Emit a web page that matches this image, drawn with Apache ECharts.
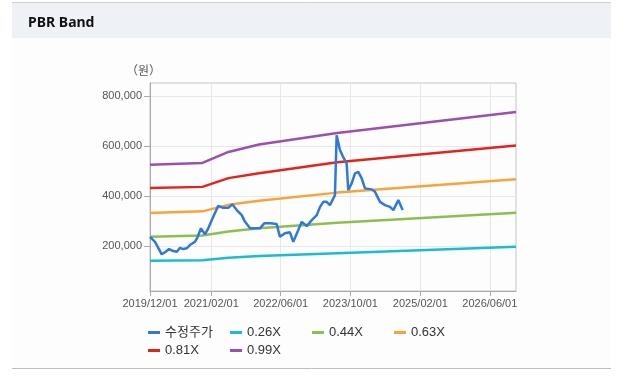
<!DOCTYPE html>
<html>
<head>
<meta charset="utf-8">
<script src="https://cdn.jsdelivr.net/npm/echarts@6/dist/echarts.min.js"></script>
<style>
html,body{margin:0;padding:0;background:#ffffff;}
#chart{width:621px;height:385px;}
</style>
</head>
<body>
<div id="chart"></div>
<script>
// ---- data ----
const priceDates = ['2019-12-01','2020-01-05','2020-02-21','2020-03-15','2020-04-12','2020-05-12','2020-06-05','2020-06-28','2020-07-21','2020-08-13','2020-09-05','2020-10-10','2020-10-29','2020-11-21','2020-12-19','2021-01-11','2021-02-15','2021-03-22','2021-04-26','2021-05-31','2021-06-28','2021-07-29','2021-09-02','2021-09-25','2021-10-30','2021-12-04','2022-01-07','2022-02-06','2022-03-18','2022-05-04','2022-05-27','2022-07-01','2022-08-05','2022-08-28','2022-10-02','2022-10-26','2022-11-30','2023-01-04','2023-02-08','2023-03-03','2023-03-26','2023-04-18','2023-05-11','2023-06-04','2023-06-15','2023-06-27','2023-07-20','2023-08-12','2023-09-05','2023-09-16','2023-10-10','2023-11-02','2023-11-25','2023-12-19','2024-01-11','2024-02-27','2024-03-21','2024-04-25','2024-05-30','2024-07-04','2024-07-27','2024-08-31','2024-09-30'];
const priceValues = [237000,217000,167000,175000,188000,180000,177000,193000,188000,191000,204000,217000,237000,271000,247000,271000,317000,361000,353000,353000,367000,344000,324000,297000,271000,271000,271000,291000,291000,288000,237000,251000,255000,217000,264000,297000,280000,304000,324000,357000,377000,377000,364000,391000,404000,644000,585000,556000,531000,424000,451000,491000,497000,471000,431000,427000,417000,377000,364000,357000,344000,384000,344000];

const bandDates = ['2019-12-01','2020-12-01','2021-06-01','2022-01-01','2023-07-01','2026-12-01'];
const band026 = [141000,143000,153000,160000,171000,197000];
const band044 = [237000,242000,258000,271000,293000,333000];
const band063 = [332000,339000,365000,381000,414000,468000];
const band081 = [432000,437000,472000,492000,536000,603000];
const band099 = [526000,533000,577000,607000,653000,737000];

const seriesNames = ['수정주가','0.26X','0.44X','0.63X','0.81X','0.99X'];
const seriesColors = ['#3179d8','#19bcd2','#8dbf4e','#f8a43a','#e5231d','#9b4fae'];

const xTickDates = ['2019-12-01','2021-02-01','2022-06-01','2023-10-01','2025-02-01','2026-06-01'];
const xMin = '2019-12-01';
const xMax = '2026-12-01';
const yTicks = [200000,400000,600000,800000];
const yMin = 20000;
const yMax = 853000;

// ---- build ----
function ts(s){ const p = s.split('-'); return new Date(+p[0], +p[1]-1, +p[2]).getTime(); }
function pairs(dates, vals){ return dates.map((d,i)=>[ts(d), vals[i]]); }
function pad(n){ return (n<10?'0':'')+n; }

const bandValues = [band026, band044, band063, band081, band099];
const series = [{
  name: seriesNames[0], type: 'line', data: pairs(priceDates, priceValues),
  showSymbol: false, symbol: 'none', z: 10,
  lineStyle: {width: 2.5, color: seriesColors[0]}, itemStyle: {color: seriesColors[0]}
}];
bandValues.forEach((v,i)=>{
  series.push({
    name: seriesNames[i+1], type: 'line', data: pairs(bandDates, v),
    showSymbol: false, symbol: 'none', z: 5,
    lineStyle: {width: 2.5, color: seriesColors[i+1]}, itemStyle: {color: seriesColors[i+1]}
  });
});

const chart = echarts.init(document.getElementById('chart'), null, {renderer: 'canvas'});
chart.setOption({
  animation: false,
  backgroundColor: '#ffffff',
  title: {
    text: 'PBR Band', left: 23, top: 9,
    textStyle: {fontFamily: '"Noto Sans", "Liberation Sans", sans-serif', fontWeight: 'bold', fontSize: 14, color: '#111', lineHeight: 18}
  },
  graphic: [
    {type: 'rect', silent: true, z: -10, shape: {x: 12, y: 2, width: 599, height: 36}, style: {fill: '#eef2f7'}},
    {type: 'line', silent: true, z: -9, shape: {x1: 12, y1: 2.5, x2: 611, y2: 2.5}, style: {stroke: '#cfcfcf', lineWidth: 1}},
    {type: 'rect', silent: true, z: -10, shape: {x: 12, y: 38, width: 599, height: 330}, style: {fill: '#fdfdfd'}},
    {type: 'line', silent: true, z: -9, shape: {x1: 12, y1: 368.5, x2: 611, y2: 368.5}, style: {stroke: '#bdbdbd', lineWidth: 1}},
    {type: 'text', silent: true, x: 143.5, y: 70, style: {text: '（원）', fill: '#555', font: '12px "Noto Sans CJK KR", sans-serif', align: 'center', verticalAlign: 'middle'}}
  ],
  legend: {
    left: 148, top: 325, width: 340, padding: 0, itemGap: 3, itemWidth: 12, itemHeight: 3, icon: 'rect',
    data: seriesNames,
    textStyle: {fontFamily: '"Liberation Sans", "Noto Sans CJK KR", sans-serif', fontSize: 13, color: '#333', width: 62, lineHeight: 15}
  },
  grid: {left: 150, right: 105, top: 83, bottom: 94, show: true, borderColor: '#c4c4c4', borderWidth: 1, backgroundColor: 'transparent'},
  xAxis: {
    type: 'value', min: ts(xMin), max: ts(xMax),
    axisLine: {lineStyle: {color: '#aaaaaa'}},
    axisTick: {show: true, length: 5, lineStyle: {color: '#aaaaaa'}, customValues: xTickDates.map(ts)},
    axisLabel: {customValues: xTickDates.map(ts), color: '#555', fontSize: 11, fontFamily: '"Liberation Sans", sans-serif', margin: 7,
      formatter: function(v){ const d = new Date(v); return d.getFullYear()+'/'+pad(d.getMonth()+1)+'/'+pad(d.getDate()); }},
    splitLine: {show: true, lineStyle: {color: '#e8e8e8'}}
  },
  yAxis: {
    type: 'value', min: yMin, max: yMax,
    axisLine: {show: true, lineStyle: {color: '#aaaaaa'}},
    axisTick: {show: true, length: 6, lineStyle: {color: '#aaaaaa'}, customValues: yTicks},
    axisLabel: {customValues: yTicks, color: '#555', fontSize: 11, fontFamily: '"Liberation Sans", sans-serif', margin: 8,
      formatter: function(v){ return v.toLocaleString('en-US'); }},
    splitLine: {show: true, lineStyle: {color: '#e8e8e8'}}
  },
  series: series
});
</script>
</body>
</html>
